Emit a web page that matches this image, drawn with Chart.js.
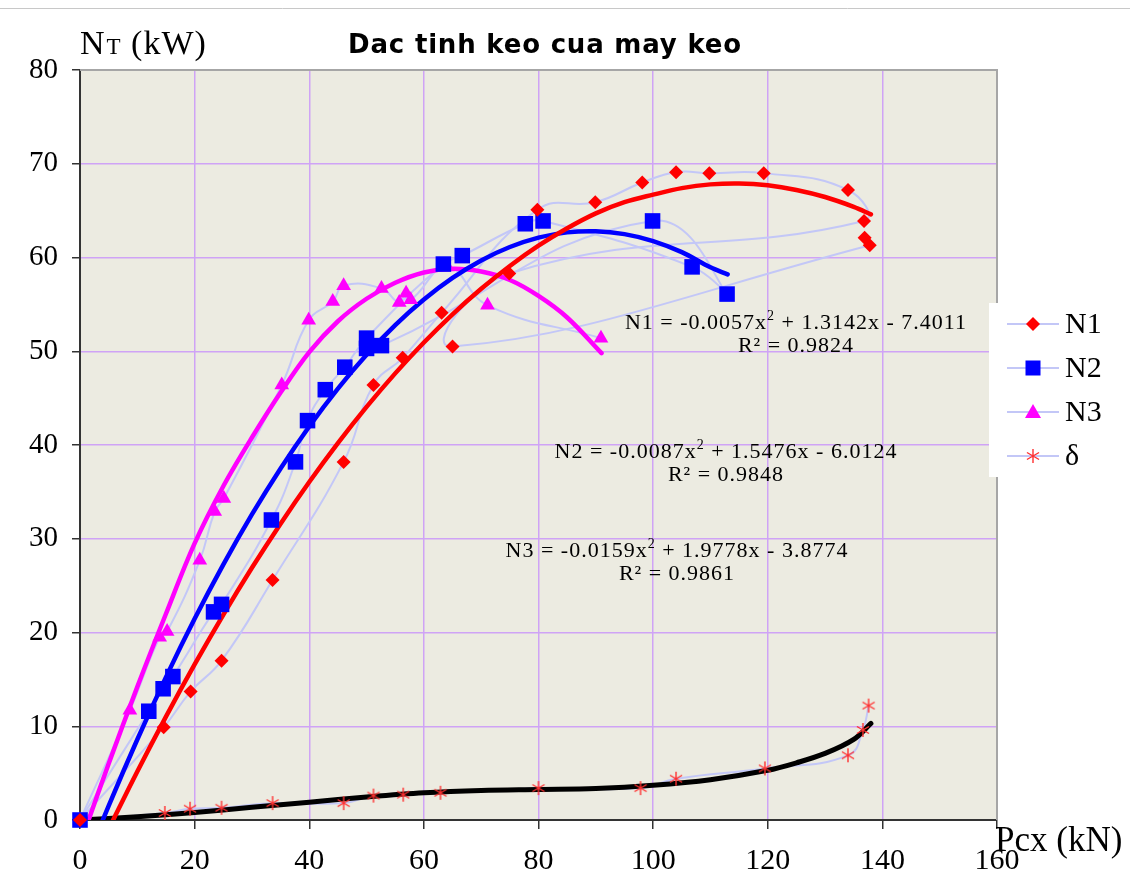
<!DOCTYPE html>
<html>
<head>
<meta charset="utf-8">
<script src="https://cdn.jsdelivr.net/npm/chart.js@4.4.0/dist/chart.umd.min.js"></script>
<style>
  html, body { margin: 0; padding: 0; background: #fff; }
  #wrap { width: 1130px; height: 885px; }
</style>
</head>
<body>
<div id="wrap"><canvas id="chart" width="1130" height="885"></canvas></div>
<script>
// --- Datos medidos (en el orden de la serie) ---
const n1X = [0, 14.6, 19.3, 24.7, 33.6, 46.0, 51.2, 56.3, 63.1, 79.8, 89.9, 98.1, 104.0, 109.8, 119.3, 134.0, 136.8, 74.9, 65.0, 137.8, 136.9];
const n1Y = [0, 9.9, 13.7, 17.0, 25.6, 38.2, 46.4, 49.3, 54.1, 65.1, 65.9, 68.0, 69.1, 69.0, 69.0, 67.2, 63.9, 58.3, 50.5, 61.3, 62.1];

const n2X = [0, 12.0, 14.5, 16.2, 23.3, 24.7, 33.4, 37.6, 39.7, 42.8, 46.2, 50.0, 63.4, 66.7, 77.7, 80.8, 106.8, 112.9, 99.9, 52.6, 50.0];
const n2Y = [0, 11.6, 14.0, 15.3, 22.2, 23.0, 32.0, 38.2, 42.6, 45.9, 48.3, 51.4, 59.3, 60.2, 63.6, 63.9, 59.0, 56.1, 63.9, 50.6, 50.3];

const n3X = [0, 8.7, 13.9, 15.2, 20.9, 23.5, 25.1, 35.2, 39.9, 44.1, 46.0, 52.6, 55.7, 56.9, 57.7, 64.1, 71.1, 90.9];
const n3Y = [0, 11.7, 19.5, 20.1, 27.7, 32.9, 34.3, 46.4, 53.3, 55.3, 57.0, 56.7, 55.2, 56.2, 55.5, 59.0, 54.9, 51.4];

const dX = [0, 14.8, 19.2, 24.7, 33.6, 46.0, 51.2, 56.4, 62.9, 80.0, 97.8, 104.0, 119.5, 134.0, 136.6, 137.6];
const dY = [0, 0.75, 1.2, 1.3, 1.8, 1.8, 2.6, 2.7, 2.9, 3.4, 3.4, 4.4, 5.5, 6.9, 9.6, 12.2];

// --- Lineas de tendencia ---
const n1TrendX = [5, 10, 15, 20, 25, 30, 35, 40, 45, 50, 55, 60, 65, 70, 75, 80, 85, 90, 95, 100, 105, 110, 115, 120, 125, 130, 135, 138];
const n1TrendY = [-0.97, 5.17, 11.03, 16.6, 21.89, 26.9, 31.61, 36.05, 40.2, 44.06, 47.64, 50.93, 53.94, 56.66, 59.1, 61.26, 63.12, 64.71, 65.9, 66.7, 67.4, 67.8, 67.9, 67.7, 67.2, 66.45, 65.4, 64.6];

const n2TrendX = [0, 5, 10, 15, 20, 25, 30, 35, 40, 45, 50, 55, 60, 65, 70, 75, 80, 85, 90, 95, 100, 105, 110, 113];
const n2TrendY = [-6.01, 1.51, 8.59, 15.24, 21.46, 27.24, 32.59, 37.5, 41.97, 46.01, 49.62, 52.79, 55.52, 57.82, 59.69, 61.12, 62.12, 62.68, 62.8, 62.49, 61.75, 60.57, 58.95, 58.2];

const n3TrendX = [1.5, 5, 10, 15, 20, 25, 30, 35, 40, 45, 50, 55, 60, 65, 70, 75, 80, 85, 91];
const n3TrendY = [0, 6.0, 14.2, 22.0, 29.5, 35.6, 40.8, 45.6, 49.9, 53.2, 55.6, 57.3, 58.4, 58.8, 58.5, 57.6, 55.9, 53.6, 49.8];

const dTrendX = [0, 10, 20, 30, 40, 50, 60, 70, 80, 90, 100, 110, 120, 125, 130, 135, 138];
const dTrendY = [0, 0.35, 0.8, 1.35, 1.9, 2.45, 2.9, 3.15, 3.25, 3.35, 3.7, 4.3, 5.3, 6.1, 7.1, 8.6, 10.3];

// --- Textos ---
const chartTitle = 'Dac tinh keo cua may keo';
const legendLabels = ['N1', 'N2', 'N3', 'δ'];
const equations = [
    { pre: 'N1 = -0.0057x', post: ' + 1.3142x - 7.4011', r2: 'R² = 0.9824', cx: 796, y: 322 },
    { pre: 'N2 = -0.0087x', post: ' + 1.5476x - 6.0124', r2: 'R² = 0.9848', cx: 726, y: 451 },
    { pre: 'N3 = -0.0159x', post: ' + 1.9778x - 3.8774', r2: 'R² = 0.9861', cx: 677, y: 550 }
];

const SERIF = "'Liberation Serif', 'Times New Roman', serif";
const LAVENDER = '#c3c7f7';
const STAR_RED = '#ff3030';

function toPoints(xs, ys) {
    return xs.map((x, i) => ({ x: x, y: ys[i] }));
}

// Asterisco de 6 brazos como en Excel
function makeStar(size, color) {
    const c = document.createElement('canvas');
    c.width = size; c.height = size;
    const g = c.getContext('2d');
    const m = size / 2, r = size / 2 - 1;
    g.strokeStyle = color;
    g.lineWidth = 1.4;
    g.beginPath();
    for (let k = 0; k < 3; k++) {
        const a = Math.PI / 2 + k * Math.PI / 3;
        g.moveTo(m + r * Math.cos(a), m + r * Math.sin(a));
        g.lineTo(m - r * Math.cos(a), m - r * Math.sin(a));
    }
    g.stroke();
    return c;
}
const starImg = makeStar(16, STAR_RED);

function seriesLine(xs, ys) {
    return {
        data: toPoints(xs, ys), showLine: true, borderColor: LAVENDER, borderWidth: 2,
        tension: 0.45, pointRadius: 0, order: 3
    };
}
function seriesMarkers(xs, ys, style, color, radius) {
    return {
        data: toPoints(xs, ys), showLine: false, pointStyle: style, pointRadius: radius,
        pointBackgroundColor: color, pointBorderColor: color, pointBorderWidth: 0,
        clip: false, order: 0
    };
}
function trendLine(xs, ys, color, width) {
    return {
        data: toPoints(xs, ys), showLine: true, borderColor: color, borderWidth: width,
        tension: 0.35, pointRadius: 0, order: 1, borderCapStyle: 'round'
    };
}

// Fondo del area del grafico
const bgPlugin = {
    id: 'bgPlugin',
    beforeDraw(chart) {
        const { ctx, chartArea: a } = chart;
        ctx.save();
        ctx.fillStyle = '#fff';
        ctx.fillRect(0, 0, chart.width, chart.height);
        ctx.strokeStyle = '#c8c8c8';
        ctx.lineWidth = 1;
        ctx.beginPath();
        ctx.moveTo(0, 8.5); ctx.lineTo(chart.width, 8.5);
        ctx.stroke();
        ctx.fillStyle = '#ecebe1';
        ctx.fillRect(a.left, a.top, a.right - a.left, a.bottom - a.top);
        ctx.restore();
    }
};

function drawMarker(ctx, style, x, y) {
    ctx.beginPath();
    if (style === 'diamond') {
        ctx.fillStyle = '#ff0000';
        ctx.moveTo(x, y - 7); ctx.lineTo(x + 7, y); ctx.lineTo(x, y + 7); ctx.lineTo(x - 7, y);
        ctx.closePath(); ctx.fill();
    } else if (style === 'square') {
        ctx.fillStyle = '#0000ff';
        ctx.fillRect(x - 7.5, y - 7.5, 15, 15);
    } else if (style === 'triangle') {
        ctx.fillStyle = '#ff00ff';
        ctx.moveTo(x, y - 8); ctx.lineTo(x + 8, y + 6); ctx.lineTo(x - 8, y + 6);
        ctx.closePath(); ctx.fill();
    } else {
        ctx.drawImage(starImg, x - 8, y - 8);
    }
}

// Titulo, etiquetas de ejes, ecuaciones y leyenda
const decorPlugin = {
    id: 'decorPlugin',
    afterDraw(chart) {
        const { ctx, chartArea: a } = chart;
        ctx.save();

        // bordes grises superior y derecho
        ctx.strokeStyle = '#a6a6a6';
        ctx.lineWidth = 2;
        ctx.beginPath();
        ctx.moveTo(a.left, a.top); ctx.lineTo(a.right, a.top); ctx.lineTo(a.right, a.bottom);
        ctx.stroke();

        // titulo
        ctx.fillStyle = '#000';
        ctx.font = "bold 26px 'DejaVu Sans', sans-serif";
        ctx.letterSpacing = '0.8px';
        ctx.textAlign = 'center';
        ctx.textBaseline = 'alphabetic';
        ctx.fillText(chartTitle, 545, 53);
        ctx.letterSpacing = '0px';

        // etiqueta eje Y: N_T (kW)
        ctx.textAlign = 'left';
        ctx.letterSpacing = '1px';
        let x = 80;
        ctx.font = '34px ' + SERIF;
        ctx.fillText('N', x, 54); x += ctx.measureText('N').width + 1;
        ctx.font = '23px ' + SERIF;
        ctx.fillText('T', x, 54); x += ctx.measureText('T').width;
        ctx.font = '34px ' + SERIF;
        ctx.fillText(' (kW)', x, 54);
        ctx.letterSpacing = '0px';

        // etiqueta eje X
        ctx.font = '35px ' + SERIF;
        ctx.fillText('Pcx (kN)', 995, 851);

        // ecuaciones de tendencia
        ctx.letterSpacing = '1px';
        equations.forEach(eq => {
            ctx.font = '22px ' + SERIF;
            const w1 = ctx.measureText(eq.pre).width;
            const w3 = ctx.measureText(eq.post).width;
            ctx.font = '14px ' + SERIF;
            const w2 = ctx.measureText('2').width;
            let sx = eq.cx - (w1 + w2 + w3) / 2;
            ctx.textAlign = 'left';
            ctx.font = '22px ' + SERIF;
            ctx.fillText(eq.pre, sx, eq.y + 7);
            ctx.font = '14px ' + SERIF;
            ctx.fillText('2', sx + w1, eq.y - 2);
            ctx.font = '22px ' + SERIF;
            ctx.fillText(eq.post, sx + w1 + w2, eq.y + 7);
            ctx.textAlign = 'center';
            ctx.fillText(eq.r2, eq.cx, eq.y + 30);
        });
        ctx.letterSpacing = '0px';

        // leyenda
        ctx.fillStyle = '#fff';
        ctx.fillRect(989, 303, 141, 174);
        const styles = ['diamond', 'square', 'triangle', 'star'];
        const ys = [324, 368, 412, 456];
        legendLabels.forEach((lab, i) => {
            ctx.strokeStyle = LAVENDER;
            ctx.lineWidth = 2;
            ctx.beginPath();
            ctx.moveTo(1007, ys[i]); ctx.lineTo(1059, ys[i]);
            ctx.stroke();
            drawMarker(ctx, styles[i], 1033, ys[i]);
            ctx.fillStyle = '#000';
            ctx.font = '30px ' + SERIF;
            ctx.textAlign = 'left';
            ctx.textBaseline = 'middle';
            ctx.fillText(lab, 1065, ys[i] + 1);
            ctx.textBaseline = 'alphabetic';
        });
        ctx.restore();
    }
};

new Chart(document.getElementById('chart'), {
    type: 'scatter',
    data: {
        datasets: [
            seriesLine(n1X, n1Y),
            seriesLine(n2X, n2Y),
            seriesLine(n3X, n3Y),
            seriesLine(dX, dY),
            trendLine(n1TrendX, n1TrendY, '#ff0000', 4.5),
            trendLine(n2TrendX, n2TrendY, '#0000ff', 4.5),
            trendLine(n3TrendX, n3TrendY, '#ff00ff', 4.5),
            trendLine(dTrendX, dTrendY, '#000000', 5),
            seriesMarkers(n1X, n1Y, 'rectRot', '#ff0000', 7),
            seriesMarkers(n2X, n2Y, 'rect', '#0000ff', 11),
            seriesMarkers(n3X, n3Y, 'triangle', '#ff00ff', 8.5),
            seriesMarkers(dX, dY, starImg, STAR_RED, 8)
        ]
    },
    options: {
        responsive: false,
        animation: false,
        layout: { padding: { top: 70, right: 133, left: 0, bottom: 0 } },
        plugins: {
            legend: { display: false },
            tooltip: { enabled: false },
            title: { display: false }
        },
        scales: {
            x: {
                type: 'linear', min: 0, max: 160,
                afterFit: s => { s.height = 65; },
                ticks: { stepSize: 20, color: '#000', font: { family: SERIF, size: 30 }, padding: 14, maxRotation: 0 },
                grid: { color: '#cfa3f6', lineWidth: 1.5, tickColor: '#333', tickLength: 9 },
                border: { color: '#333', width: 2 }
            },
            y: {
                type: 'linear', min: 0, max: 80,
                afterFit: s => { s.width = 80; },
                ticks: { stepSize: 10, color: '#000', font: { family: SERIF, size: 29 }, padding: 14 },
                grid: { color: '#cfa3f6', lineWidth: 1.5, tickColor: '#333', tickLength: 8 },
                border: { color: '#333', width: 2 }
            }
        }
    },
    plugins: [bgPlugin, decorPlugin]
});
</script>
</body>
</html>
